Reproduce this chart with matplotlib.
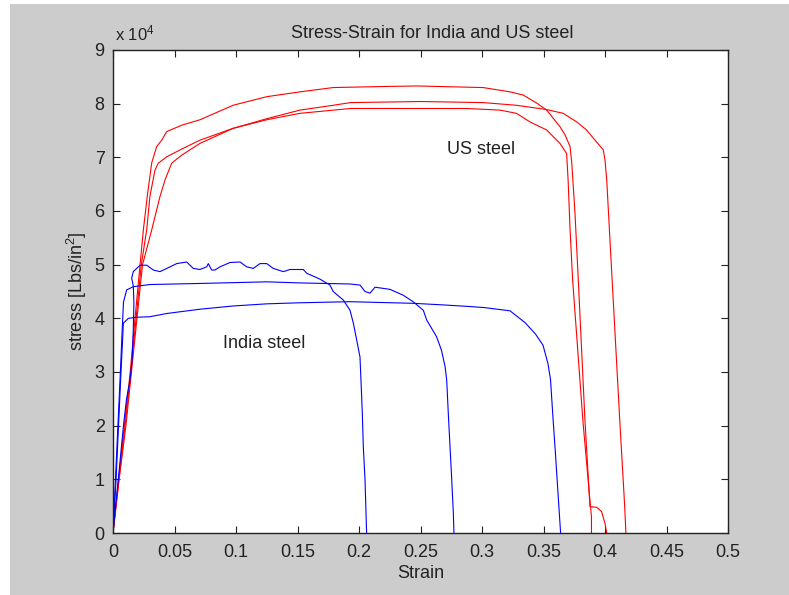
import matplotlib
matplotlib.use('Agg')
import matplotlib.pyplot as plt
from matplotlib.patches import Rectangle

plt.rcParams['font.family'] = ['Liberation Sans', 'DejaVu Sans']
plt.rcParams['mathtext.fontset'] = 'custom'
plt.rcParams['mathtext.rm'] = 'Liberation Sans'
plt.rcParams['mathtext.it'] = 'Liberation Sans'

# US steel samples (strain, stress in psi)
us_strain_1 = [0, 0.0045, 0.0092, 0.0140, 0.0179, 0.022, 0.0247, 0.028, 0.0315, 0.0355, 0.0396, 0.0437,
               0.0560, 0.0707, 0.0976, 0.125, 0.152, 0.179, 0.22, 0.247, 0.301, 0.3228, 0.3336, 0.3445,
               0.3526, 0.3634, 0.3675, 0.3716, 0.373, 0.3756, 0.3783, 0.3837, 0.3878, 0.3932, 0.3972,
               0.400, 0.4014]
us_stress_1 = [0, 10000, 20000, 30000, 40000, 50000, 56500, 63000, 69000, 72000, 73200, 74800,
               76000, 77000, 79700, 81300, 82200, 83000, 83200, 83300, 83000, 82200, 81600, 80100,
               78800, 75700, 74200, 72000, 68900, 59600, 47100, 21000, 4900, 4800, 4000,
               1800, 0]

us_strain_2 = [0, 0.0048, 0.0098, 0.0145, 0.0188, 0.023, 0.0274, 0.030, 0.0341, 0.0368, 0.0437, 0.0572,
               0.0707, 0.0976, 0.125, 0.152, 0.179, 0.193, 0.25, 0.301, 0.328, 0.3526, 0.366, 0.377,
               0.385, 0.393, 0.3986, 0.400, 0.4014, 0.4055, 0.412, 0.416, 0.417]
us_stress_2 = [0, 10000, 20000, 30000, 40000, 50000, 56500, 62700, 67600, 68900, 70100, 71700,
               73200, 75400, 77200, 78800, 79700, 80200, 80400, 80200, 79700, 78900, 78200, 76600,
               75100, 72900, 71400, 69500, 65800, 48400, 21000, 5000, 0]

us_strain_3 = [0, 0.005, 0.0105, 0.015, 0.0195, 0.024, 0.0315, 0.0382, 0.0423, 0.0477, 0.0558, 0.0707,
               0.0976, 0.125, 0.152, 0.193, 0.2876, 0.3146, 0.328, 0.339, 0.3526, 0.3634, 0.3688,
               0.370, 0.3716, 0.3737, 0.382, 0.387, 0.389, 0.389]
us_stress_3 = [0, 10000, 20000, 30000, 40000, 50000, 56500, 62700, 65800, 68900, 70400, 72600,
               75400, 77000, 78200, 79100, 79100, 78800, 78200, 76600, 75100, 72600, 70700,
               65800, 56500, 47100, 21000, 8000, 3000, 0]

# India steel samples
in_strain_1 = [0, 0.0025, 0.0045, 0.0065, 0.0078, 0.0084, 0.0125, 0.0193, 0.030, 0.0437, 0.0707, 0.0976,
               0.125, 0.152, 0.1927, 0.244, 0.2686, 0.290, 0.302, 0.3228, 0.335, 0.3434, 0.3496,
               0.3537, 0.3557, 0.3577, 0.3598, 0.3618, 0.3639]
in_stress_1 = [0, 10000, 20000, 30000, 36000, 39100, 40000, 40200, 40300, 40900, 41700, 42300,
               42700, 42900, 43100, 42800, 42500, 42200, 42000, 41400, 39200, 37100, 35000,
               31500, 28600, 21500, 14500, 7400, 0]

in_strain_2 = [0, 0.002, 0.004, 0.006, 0.0075, 0.0085, 0.0111, 0.0165, 0.030, 0.0707, 0.125, 0.152,
               0.1927, 0.2008, 0.2049, 0.209, 0.213, 0.2252, 0.236, 0.244, 0.2523, 0.255, 0.263,
               0.267, 0.270, 0.2713, 0.2726, 0.274, 0.2754, 0.2767, 0.2772]
in_stress_2 = [0, 10000, 20000, 30000, 38000, 43000, 45300, 45900, 46300, 46500, 46800, 46600,
               46400, 46200, 45000, 44700, 45800, 45400, 44300, 43100, 41500, 39700, 36600,
               34100, 31000, 28500, 22300, 16100, 9900, 3700, 0]

in_strain_3 = [0, 0.003, 0.006, 0.0085, 0.011, 0.0135, 0.0155, 0.0165, 0.017, 0.0165, 0.0152, 0.0165,
               0.022, 0.0274, 0.0328, 0.0382, 0.0437, 0.0518, 0.0599, 0.0653, 0.0707, 0.0762, 0.0775,
               0.0802, 0.0829, 0.087, 0.0951, 0.1033, 0.1087, 0.114, 0.1195, 0.125, 0.1303, 0.1385,
               0.1439, 0.1547, 0.1575, 0.1683, 0.1764, 0.179, 0.1873, 0.1927, 0.1954, 0.1981, 0.2008,
               0.2016, 0.2027, 0.2035, 0.2049, 0.2057, 0.2062]
in_stress_3 = [0, 7000, 14000, 20000, 25000, 28000, 32000, 38000, 43000, 46000, 47500, 48700,
               49900, 49900, 49000, 48700, 49300, 50200, 50500, 49300, 49100, 49600, 50200,
               49000, 49000, 49600, 50400, 50500, 49600, 49300, 50200, 50200, 49300, 48700,
               49100, 49100, 48400, 47300, 46200, 45000, 43400, 41500, 39100, 36000, 32800,
               28500, 22300, 16100, 9900, 3700, 0]

x_ticks = [0, 0.05, 0.1, 0.15, 0.2, 0.25, 0.3, 0.35, 0.4, 0.45, 0.5]
x_labels = ['0', '0.05', '0.1', '0.15', '0.2', '0.25', '0.3', '0.35', '0.4', '0.45', '0.5']
y_ticks = [0, 10000, 20000, 30000, 40000, 50000, 60000, 70000, 80000, 90000]
y_labels = ['0', '1', '2', '3', '4', '5', '6', '7', '8', '9']

fig = plt.figure(figsize=(7.89, 5.95), dpi=100, facecolor='white')
# MATLAB-style grey window (thin white strip on left/top as in the screenshot)
fig.patches.append(Rectangle((10 / 789, 0), 1, 1 - 4 / 595, transform=fig.transFigure,
                             facecolor='#cccccc', edgecolor='none', zorder=-10))

ax = fig.add_axes([113 / 789, 1 - 533 / 595, 615 / 789, 483 / 595])
ax.set_facecolor('white')

lw = 0.8
ax.plot(us_strain_1, us_stress_1, color='red', lw=lw)
ax.plot(us_strain_2, us_stress_2, color='red', lw=lw)
ax.plot(us_strain_3, us_stress_3, color='red', lw=lw)
ax.plot(in_strain_1, in_stress_1, color='blue', lw=lw)
ax.plot(in_strain_2, in_stress_2, color='blue', lw=lw)
ax.plot(in_strain_3, in_stress_3, color='blue', lw=lw)

ax.set_xlim(0, 0.5)
ax.set_ylim(0, 90000)
ax.set_xticks(x_ticks)
ax.set_xticklabels(x_labels)
ax.set_yticks(y_ticks)
ax.set_yticklabels(y_labels)
ax.tick_params(direction='in', length=5, width=0.8, top=True, right=True,
               labelsize=13, colors='#222222', pad=6)
ax.tick_params(axis='x', pad=8)
for s in ax.spines.values():
    s.set_linewidth(1.0)
    s.set_color('#222222')

ax.text(0.2713, 71500, 'US steel', fontsize=13, va='center', ha='left', color='#222222')
ax.text(0.0897, 35400, 'India steel', fontsize=13, va='center', ha='left', color='#222222')

ax.set_title('Stress-Strain for India and US steel', fontsize=13, x=0.519, pad=9, color='#222222')
ax.set_xlabel('Strain', fontsize=13, labelpad=3, color='#222222')
ax.set_ylabel('stress [Lbs/in$^2$]', fontsize=13, labelpad=4, color='#222222')
fig.text(115 / 789, 1 - 40 / 595, 'x 10$^4$', fontsize=12, ha='left', va='baseline', color='#222222')

fig.savefig('out.png', dpi=100, facecolor=fig.get_facecolor())
